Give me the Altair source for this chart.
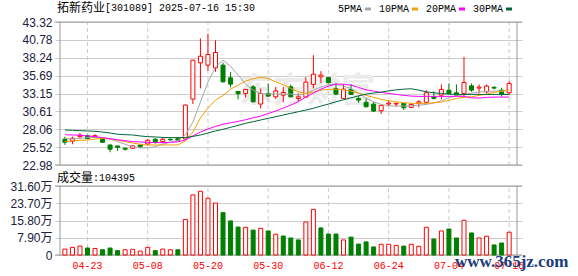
import altair as alt
import pandas as pd

# ---------------- data ----------------
dates = ["04-18", "04-21", "04-22", "04-23", "04-24", "04-25", "04-28", "04-29", "04-30",
         "05-06", "05-07", "05-08", "05-09", "05-12", "05-13", "05-14", "05-15", "05-16",
         "05-19", "05-20", "05-21", "05-22", "05-23", "05-26", "05-27", "05-28", "05-29", "05-30",
         "06-03", "06-04", "06-05", "06-06", "06-09", "06-10", "06-11", "06-12", "06-13",
         "06-16", "06-17", "06-18", "06-19", "06-20", "06-23", "06-24", "06-25", "06-26", "06-27",
         "06-30", "07-01", "07-02", "07-03", "07-04", "07-07", "07-08", "07-09", "07-10", "07-11",
         "07-14", "07-15", "07-16"]

open_ = [26.64, 26.36, 27.01, 27.15, 27.01, 26.68, 25.83, 25.69, 25.37, 25.36,
         25.83, 25.97, 26.64, 26.30, 26.64, 26.72, 26.68, 32.36, 37.50, 37.18,
         36.80, 37.18, 35.38, 33.45, 33.16, 34.10, 31.65, 33.16, 32.68, 32.92,
         34.10, 32.45, 32.64, 34.44, 35.52, 35.43, 33.87, 32.45, 33.73, 32.45,
         31.89, 31.65, 30.70, 31.65, 31.65, 31.75, 31.18, 31.75, 31.89, 32.64,
         32.92, 33.63, 33.25, 33.16, 34.24, 33.92, 33.39, 34.02, 33.63, 33.25]
close = [26.21, 26.78, 27.21, 26.72, 27.15, 26.21, 25.22, 25.50, 25.22, 25.69,
         25.59, 26.50, 26.21, 26.64, 26.55, 26.50, 31.51, 37.89, 38.45, 38.70,
         38.98, 34.81, 34.48, 33.11, 33.73, 31.97, 33.16, 32.78, 33.53, 33.30,
         32.68, 32.68, 34.77, 35.90, 35.76, 34.67, 33.06, 33.77, 33.02, 32.21,
         31.26, 30.65, 31.46, 31.79, 31.75, 31.12, 31.60, 31.97, 33.25, 32.45,
         33.73, 33.16, 32.92, 34.72, 33.63, 34.06, 34.20, 33.92, 33.02, 34.58]
high = [27.01, 27.01, 27.53, 27.30, 27.35, 26.82, 25.83, 25.72, 25.40, 25.72,
        25.86, 26.68, 26.82, 26.87, 26.78, 26.82, 31.56, 37.92, 40.97, 41.67,
        40.72, 37.56, 36.23, 33.50, 33.80, 34.34, 33.87, 34.58, 34.10, 34.06,
        34.44, 33.16, 35.48, 38.60, 36.33, 35.50, 34.67, 34.48, 34.48, 32.78,
        32.45, 31.97, 31.50, 32.07, 31.83, 31.80, 31.79, 32.21, 33.63, 33.49,
        34.44, 34.58, 34.44, 38.36, 34.58, 34.44, 34.44, 34.20, 33.96, 34.91]
low = [25.83, 25.93, 26.78, 26.68, 26.87, 26.16, 24.80, 24.98, 25.02, 25.26,
       25.36, 25.73, 26.02, 26.07, 26.44, 26.44, 26.60, 31.65, 33.87, 36.37,
       36.23, 34.72, 34.01, 32.31, 32.60, 31.89, 31.04, 32.64, 32.36, 31.89,
       32.60, 32.07, 32.60, 33.87, 34.62, 34.60, 32.92, 32.40, 32.95, 31.83,
       31.18, 30.51, 30.23, 31.36, 31.26, 30.80, 31.08, 31.18, 31.75, 32.31,
       32.31, 33.10, 32.90, 32.68, 33.39, 33.16, 33.16, 33.73, 32.68, 32.92]

ma5 = [26.75, 26.68, 26.78, 26.87, 26.92, 26.87, 26.68, 26.30, 25.93, 25.59,
       25.41, 25.41, 25.59, 25.93, 26.21, 26.44, 27.25, 29.09, 31.93, 34.77,
       36.94, 37.89, 37.04, 35.76, 34.48, 33.63, 33.16, 33.06, 33.06, 33.06,
       33.06, 32.92, 33.16, 33.63, 34.06, 34.41, 34.48, 34.20, 33.84, 33.21,
       32.50, 31.97, 31.60, 31.40, 31.36, 31.36, 31.40, 31.50, 31.60, 31.79,
       32.11, 32.57, 32.78, 33.02, 33.21, 33.35, 33.45, 33.49, 33.49, 33.63]
ma10 = [26.30, 26.40, 26.50, 26.54, 26.68, 26.78, 26.68, 26.50, 26.30, 26.11,
        25.93, 25.83, 25.83, 25.83, 25.83, 25.83, 26.40, 27.67, 29.66, 31.08,
        32.21, 32.85, 33.77, 34.34, 34.91, 35.26, 35.43, 35.29, 34.81, 34.38,
        33.87, 33.39, 33.16, 33.35, 33.63, 33.73, 33.77, 33.67, 33.49, 33.21,
        32.88, 32.60, 32.31, 32.11, 31.97, 31.83, 31.75, 31.75, 31.75, 31.83,
        31.93, 32.17, 32.45, 32.60, 32.68, 32.88, 33.06, 33.31, 33.49, 33.63]
ma20 = [27.29, 27.25, 27.21, 27.11, 27.01, 26.87, 26.72, 26.58, 26.44, 26.30,
        26.26, 26.21, 26.16, 26.16, 26.21, 26.26, 26.54, 27.11, 27.67, 28.10,
        28.48, 28.77, 28.99, 29.19, 29.42, 29.70, 29.94, 30.30, 30.65, 31.08,
        31.50, 32.00, 32.64, 33.21, 33.77, 34.20, 34.48, 34.48, 34.34, 34.01,
        33.67, 33.49, 33.31, 33.16, 33.02, 32.88, 32.78, 32.74, 32.74, 32.74,
        32.74, 32.74, 32.74, 32.74, 32.54, 32.50, 32.60, 32.64, 32.64, 32.64]
ma30 = [27.96, 27.92, 27.86, 27.82, 27.77, 27.67, 27.53, 27.35, 27.29, 27.25,
        27.11, 27.01, 26.97, 26.90, 26.88, 26.88, 26.88, 27.05, 27.25, 27.53,
        27.82, 28.06, 28.34, 28.62, 28.91, 29.14, 29.38, 29.62, 29.85, 30.09,
        30.33, 30.56, 30.80, 31.04, 31.36, 31.65, 31.97, 32.26, 32.54, 32.82,
        33.06, 33.21, 33.35, 33.53, 33.67, 33.77, 33.82, 33.63, 33.39, 33.25,
        33.16, 33.06, 33.02, 33.02, 33.02, 33.02, 33.02, 33.02, 33.02, 33.02]

volume = [2.7, 3.5, 4.1, 3.2, 3.0, 2.4, 3.2, 2.0, 2.4, 2.6,
          1.8, 3.5, 2.0, 2.7, 2.4, 2.4, 16.3, 27.5, 29.2, 26.0,
          23.8, 19.4, 15.6, 12.8, 12.7, 11.4, 12.2, 11.0, 9.5, 8.7,
          7.8, 6.9, 15.1, 20.9, 12.4, 9.6, 9.6, 6.9, 8.2, 5.0,
          6.0, 3.7, 4.9, 4.9, 4.4, 4.1, 4.9, 4.0, 12.7, 7.3,
          11.0, 11.9, 7.8, 15.9, 10.1, 7.8, 8.6, 4.6, 5.5, 10.44]
vol_up = [1, 1, 1, 0, 1, 0, 0, 0, 1, 1,
          1, 1, 0, 1, 1, 0, 1, 1, 1, 1,
          1, 0, 0, 0, 1, 0, 1, 0, 1, 0,
          0, 0, 1, 1, 0, 0, 0, 1, 0, 0,
          0, 0, 1, 1, 1, 0, 1, 1, 1, 0,
          1, 0, 0, 1, 0, 1, 1, 0, 0, 1]

price_ticks = [22.98, 25.52, 28.06, 30.61, 33.15, 35.69, 38.24, 40.78, 43.32]
vol_ticks = [0, 7.90, 15.80, 23.70, 31.60]
date_ticks = ["04-23", "05-08", "05-20", "05-30", "06-12", "06-24", "07-04", "07-16"]
ma_names = ["5PMA", "10PMA", "20PMA", "30PMA"]
ma_colors = ["#a6a6a6", "#f5a000", "#ff00ff", "#00663a"]
stock_name = "拓新药业"
stock_info = "[301089] 2025-07-16 15:30"
vol_title = "成交量"
vol_last = 104395

# ---------------- layout ----------------
W, H = 467, 233
PRICE_RANGE = [143, 0]
VOL_RANGE = [233, 164]
XMIN, XMAX = -0.65, 60.04
RED, GREEN = "#ff0000", "#008000"
BORDER, GRID = "#999999", "#cccccc"
MONO = "Liberation Mono"
CJK = "Noto Sans CJK SC"

n = len(dates)
df = pd.DataFrame({"i": list(range(n)), "date": dates, "open": open_, "close": close,
                   "high": high, "low": low, "vol": volume})
df["dir"] = ["up" if c >= o else "down" for o, c in zip(open_, close)]
df["vdir"] = ["up" if u else "down" for u in vol_up]

ma_df = pd.DataFrame([{"i": k, "value": v, "ma": name}
                      for name, arr in zip(ma_names, [ma5, ma10, ma20, ma30])
                      for k, v in enumerate(arr)])

tick_idx = [dates.index(d) for d in date_ticks]
vgrid_price = pd.DataFrame({"i": tick_idx, "lo": price_ticks[0], "hi": price_ticks[-1]})
vgrid_vol = pd.DataFrame({"i": tick_idx, "lo": vol_ticks[0], "hi": vol_ticks[-1]})
xlab_df = pd.DataFrame({"i": tick_idx, "date": date_ticks})
side_price = pd.DataFrame({"i": [XMIN, XMAX], "lo": price_ticks[0], "hi": price_ticks[-1]})
side_vol = pd.DataFrame({"i": [XMIN, XMAX], "lo": vol_ticks[0], "hi": vol_ticks[-1]})
hb_price = pd.DataFrame({"v": [price_ticks[0], price_ticks[-1]]})
hb_vol = pd.DataFrame({"v": [vol_ticks[0], vol_ticks[-1]]})

xscale = alt.Scale(domain=[XMIN, XMAX], nice=False, zero=False)
X = alt.X("i:Q", scale=xscale, axis=None)

pscale = alt.Scale(domain=[price_ticks[0], price_ticks[-1]], range=PRICE_RANGE, nice=False, zero=False)
vscale = alt.Scale(domain=[vol_ticks[0], vol_ticks[-1]], range=VOL_RANGE, nice=False, zero=True)

paxis = alt.Axis(values=price_ticks, format=".2f", orient="left", grid=True, gridColor=GRID,
                 gridWidth=1, domain=False, ticks=False, tickSize=0, labelPadding=3,
                 labelFont="Liberation Sans", labelFontSize=12, labelColor="#20203a", title=None)
vaxis = alt.Axis(values=vol_ticks, orient="left", grid=True, gridColor=GRID, gridWidth=1,
                 labelExpr="datum.value == 0 ? '0' : format(datum.value, '.2f') + '万'",
                 domain=False, ticks=False, tickSize=0, labelPadding=3,
                 labelFont="Liberation Sans, Noto Sans CJK SC", labelFontSize=12,
                 labelColor="#20203a", title=None)

stroke_scale = alt.Scale(domain=["up", "down"], range=[RED, GREEN])
fill_scale = alt.Scale(domain=["up", "down"], range=["#ffffff", GREEN])


def PY(field):
    return alt.Y(field, scale=pscale, axis=paxis)


def VY(field):
    return alt.Y(field, scale=vscale, axis=vaxis)


one = pd.DataFrame({"k": [0]})

# ---------------- price panel ----------------
watermark = alt.Chart(one).mark_text(font=CJK, fontSize=34, fontWeight="bold", color="#ebebeb",
                                     align="center", baseline="middle").encode(
    x=alt.value(252), y=alt.value(70), text=alt.value("东方财富"))

p_vgrid = alt.Chart(vgrid_price).mark_rule(color=GRID, strokeDash=[4, 3]).encode(
    x=X, y=PY("lo:Q"), y2="hi:Q")
p_hb = alt.Chart(hb_price).mark_rule(color=BORDER).encode(y=PY("v:Q"))
p_side = alt.Chart(side_price).mark_rule(color=BORDER).encode(x=X, y=PY("lo:Q"), y2="hi:Q")

wick = alt.Chart(df).mark_rule(strokeWidth=1).encode(
    x=X, y=PY("low:Q"), y2="high:Q",
    stroke=alt.Stroke("dir:N", scale=stroke_scale, legend=None))
body = alt.Chart(df).mark_bar(size=4, strokeWidth=1).encode(
    x=X, y=PY("open:Q"), y2="close:Q",
    fill=alt.Fill("dir:N", scale=fill_scale, legend=None),
    stroke=alt.Stroke("dir:N", scale=stroke_scale, legend=None))
ma_lines = alt.Chart(ma_df).mark_line(strokeWidth=1).encode(
    x=X, y=PY("value:Q"),
    color=alt.Color("ma:N", scale=alt.Scale(domain=ma_names, range=ma_colors), legend=None))

price = alt.layer(p_vgrid, p_hb, p_side, wick, body, ma_lines)

# ---------------- volume panel ----------------
v_vgrid = alt.Chart(vgrid_vol).mark_rule(color=GRID, strokeDash=[4, 3]).encode(
    x=X, y=VY("lo:Q"), y2="hi:Q")
v_hb = alt.Chart(hb_vol).mark_rule(color=BORDER).encode(y=VY("v:Q"))
v_side = alt.Chart(side_vol).mark_rule(color=BORDER).encode(x=X, y=VY("lo:Q"), y2="hi:Q")
vbars = alt.Chart(df).mark_bar(size=4, strokeWidth=1).encode(
    x=X, y=VY("vol:Q"),
    fill=alt.Fill("vdir:N", scale=fill_scale, legend=None),
    stroke=alt.Stroke("vdir:N", scale=stroke_scale, legend=None))
vol = alt.layer(v_vgrid, v_hb, v_side, vbars)

# ---------------- texts ----------------
texts = []
texts.append(alt.Chart(one).mark_text(font=CJK, fontSize=12, align="left", baseline="middle",
                                      color="#000000").encode(
    x=alt.value(2), y=alt.value(-14), text=alt.value(stock_name)))
texts.append(alt.Chart(one).mark_text(font=MONO, fontSize=10, align="left", baseline="middle",
                                      color="#000000").encode(
    x=alt.value(2 + 12 * len(stock_name)), y=alt.value(-14), text=alt.value(stock_info)))

lx = 283
for name, col in zip(ma_names, ma_colors):
    texts.append(alt.Chart(one).mark_text(font=MONO, fontSize=10, align="left", baseline="middle",
                                          color="#000000").encode(
        x=alt.value(lx), y=alt.value(-13), text=alt.value(name)))
    sx = lx + 6 * len(name) + 3
    texts.append(alt.Chart(one).mark_rule(color=col, strokeWidth=3).encode(
        x=alt.value(sx), x2=alt.value(sx + 6), y=alt.value(-13)))
    lx = sx + 6 + 8

texts.append(alt.Chart(one).mark_text(font=CJK, fontSize=12, align="left", baseline="middle",
                                      color="#000000").encode(
    x=alt.value(2), y=alt.value(156), text=alt.value(vol_title)))
texts.append(alt.Chart(one).mark_text(font=MONO, fontSize=10, align="left", baseline="middle",
                                      color="#000000").encode(
    x=alt.value(2 + 12 * len(vol_title)), y=alt.value(156), text=alt.value(":" + str(vol_last))))

xlabels = alt.Chart(xlab_df).mark_text(font=MONO, fontSize=10, align="center", baseline="middle",
                                       color=RED).encode(
    x=X, y=alt.value(244), text="date:N")
texts.append(xlabels)

site = alt.Chart(one).mark_text(font="Liberation Serif", fontSize=17, fontWeight="bold",
                                color="#203c7c", align="left", baseline="alphabetic").encode(
    x=alt.value(400), y=alt.value(245), text=alt.value("www.365jz.com"))

chart = alt.layer(watermark, price, vol, *texts, site).resolve_scale(y="independent").properties(
    width=W, height=H,
    autosize=alt.AutoSizeParams(type="none"),
    padding={"left": 55, "top": 22, "right": 56, "bottom": 21},
    background="#ffffff",
).configure_view(strokeWidth=0)

chart.save("out.html", embed_options={"renderer": "svg", "actions": False})
